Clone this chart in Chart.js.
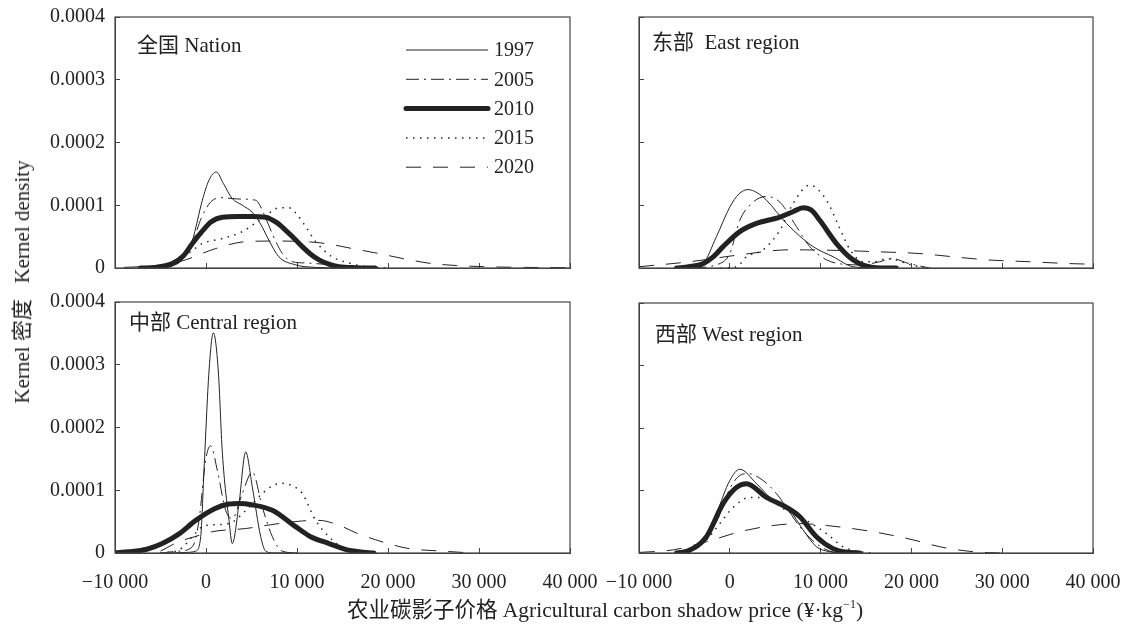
<!DOCTYPE html>
<html>
<head>
<meta charset="utf-8">
<script src="https://cdn.jsdelivr.net/npm/chart.js@4"></script>
<style>
  body { margin: 0; background: #fff; }
  #wrap { position: relative; width: 1129px; height: 625px; overflow: hidden; color: #222;
          font-family: "Liberation Serif", "Noto Sans CJK SC", serif; }
  #wrap canvas { position: absolute; left: 0; top: 0; }
  .ytitle { position: absolute; left: 20px; top: 282px; transform: translate(-50%, -50%) rotate(-90deg);
            white-space: nowrap; font-size: 21px; }
  .xtitle { position: absolute; left: 605px; top: 607px; transform: translate(-50%, -50%);
            white-space: nowrap; font-size: 21.5px; }
</style>
</head>
<body>
<div id="wrap">
  <canvas id="nation" width="1129" height="625"></canvas>
  <canvas id="east" width="1129" height="625"></canvas>
  <canvas id="central" width="1129" height="625"></canvas>
  <canvas id="west" width="1129" height="625"></canvas>
  <div class="ytitle">Kernel 密度&nbsp;&nbsp;&nbsp;Kernel density</div>
  <div class="xtitle">农业碳影子价格 Agricultural carbon shadow price (¥·kg<sup style="font-size:12px">−1</sup>)</div>
</div>
<script>
// density values are read in units of 1e-5
const SCALE = 1e-5;
const years = ['1997', '2005', '2010', '2015', '2020'];
const xTickLabels = ['−10 000', '0', '10 000', '20 000', '30 000', '40 000'];
const yTickLabels = ['0', '0.0001', '0.0002', '0.0003', '0.0004'];

// 全国 Nation
const nation1997X = [-7000, -4000, -2500, -1500, -400, 330, 1130, 1900, 2860, 4000, 5060, 6000, 6920, 8000, 9850, 12000, 15000, 18000];
const nation1997Y = [0, 0.3, 1.5, 4.4, 10.8, 14.0, 15.3, 13.5, 11.1, 10.0, 8.9, 7.0, 4.4, 1.8, 0.5, 0.1, 0, 0];
const nation2005X = [-7000, -4000, -2500, -1500, -500, 500, 1760, 3500, 5460, 6400, 7270, 8350, 9500, 11000, 13000, 16000, 19000];
const nation2005Y = [0, 0.3, 1.5, 4.0, 8.0, 10.5, 11.2, 11.0, 10.8, 8.5, 5.5, 2.4, 1.0, 0.8, 0.6, 0.3, 0];
const nation2010X = [-7200, -5500, -3700, -2500, -1500, -500, 500, 1800, 3500, 5000, 6560, 7700, 8760, 9700, 10580, 11500, 12420, 13500, 14620, 16500, 18600];
const nation2010Y = [0, 0.1, 0.7, 1.9, 3.9, 5.7, 7.3, 8.1, 8.2, 8.2, 8.1, 7.3, 6.0, 4.7, 3.4, 2.2, 1.3, 0.6, 0.2, 0.05, 0];
const nation2015X = [-6000, -4000, -2970, -1500, -400, 1800, 4000, 5820, 7000, 8020, 9120, 9900, 10950, 12050, 13850, 15700, 17600, 20000];
const nation2015Y = [0, 0.4, 1.3, 2.8, 3.9, 4.7, 5.8, 7.6, 8.8, 9.6, 9.6, 8.7, 6.6, 4.2, 1.8, 0.8, 0.2, 0];
const nation2020X = [-9000, -6000, -4000, -2230, 1060, 4360, 7660, 10950, 13150, 16080, 19000, 22000, 24840, 27500, 30740, 35000, 40000];
const nation2020Y = [0.1, 0.3, 0.6, 1.3, 3.1, 4.2, 4.3, 4.2, 3.9, 3.1, 2.3, 1.4, 0.7, 0.4, 0.2, 0.1, 0.05];

// 东部 East region
const east1997X = [-6000, -4000, -2940, -1470, 0, 1000, 2020, 3000, 4040, 6240, 9180, 11380, 13580, 16000];
const east1997Y = [0, 0.2, 0.7, 5.0, 9.7, 11.8, 12.5, 12.0, 10.8, 7.1, 3.4, 1.8, 0.2, 0];
const east2005X = [-4000, -1500, 0, 1100, 2570, 4040, 5510, 7340, 8810, 10650, 12500, 14500, 16500, 18000, 19500, 22000];
const east2005Y = [0, 0.5, 2.3, 7.6, 10.5, 11.4, 10.5, 6.6, 3.4, 1.3, 0.6, 0.5, 1.0, 1.5, 0.8, 0];
const east2010X = [-5870, -4500, -2940, -1800, -740, 1100, 2940, 5510, 7000, 8070, 9000, 9910, 11750, 13580, 15790, 18350];
const east2010Y = [0, 0.2, 0.7, 1.8, 3.4, 5.8, 7.1, 8.1, 9.0, 9.6, 9.2, 7.6, 3.9, 1.3, 0.1, 0];
const east2015X = [-1000, 740, 1840, 3670, 5510, 6980, 8810, 10650, 12110, 13250, 14690, 16000, 17260, 18500, 19460, 21450];
const east2015Y = [0, 0.2, 1.8, 2.9, 6.0, 10.3, 13.2, 10.8, 6.3, 2.9, 1.0, 1.0, 1.5, 1.2, 0.7, 0];
const east2020X = [-10000, -4400, 1100, 6610, 12110, 16000, 20930, 24500, 28270, 33000, 37440, 40000];
const east2020Y = [0.2, 1.0, 2.1, 2.9, 2.8, 2.6, 2.3, 1.8, 1.3, 1.0, 0.7, 0.6];

// 中部 Central region
const central1997X = [-4000, -2000, -1130, -580, -220, 330, 810, 1350, 1800, 2530, 2890, 3630, 4360, 5090, 6010, 6560, 7500, 10000];
const central1997Y = [0, 0.1, 0.3, 2.6, 13.2, 29.0, 35.1, 29.0, 15.9, 5.2, 1.5, 7.9, 16.1, 10.5, 2.6, 0.3, 0, 0];
const central2005X = [-5000, -3000, -1500, -770, -40, 510, 1240, 2160, 2890, 3990, 5090, 6190, 7290, 8380, 10000];
const central2005Y = [0, 0.3, 1.0, 5.2, 14.8, 17.1, 13.2, 6.8, 5.5, 9.5, 12.9, 7.3, 2.6, 0.3, 0];
const central2010X = [-10000, -8460, -6500, -4800, -3000, -1130, 1000, 2500, 3630, 5000, 7290, 9850, 11500, 13520, 15500, 16810, 18460];
const central2010Y = [0.05, 0.2, 0.6, 1.5, 3.0, 5.2, 7.1, 7.8, 7.9, 7.7, 6.8, 4.2, 2.6, 1.5, 0.5, 0.2, 0];
const central2015X = [-5000, -2970, -1130, -400, 1000, 2530, 4730, 6190, 7300, 8380, 9500, 10580, 12050, 14250, 15710, 17000];
const central2015Y = [0, 0.5, 3.2, 4.2, 4.5, 4.7, 7.3, 9.5, 10.7, 11.1, 10.7, 9.5, 5.2, 1.6, 0.2, 0];
const central2020X = [-5000, -2970, -1000, 700, 4360, 8020, 10500, 12420, 14980, 16500, 18650, 20500, 22310, 25970, 29230];
const central2020Y = [0.3, 1.8, 2.7, 3.4, 3.9, 4.7, 5.1, 5.2, 4.2, 3.2, 2.1, 1.3, 0.7, 0.3, 0];

// 西部 West region
const west1997X = [-6000, -4000, -2570, -1470, 0, 1100, 2940, 4770, 6610, 8070, 9540, 11010, 12500];
const west1997Y = [0, 0.5, 2.6, 6.3, 11.6, 13.4, 11.1, 8.4, 6.8, 3.7, 1.0, 0.2, 0];
const west2005X = [-6000, -4000, -2570, -1200, 0, 1000, 2020, 3670, 5140, 6240, 7710, 9540, 11010, 12500];
const west2005Y = [0, 0.5, 2.4, 5.8, 10.3, 12.3, 12.7, 11.6, 9.5, 7.3, 4.2, 1.5, 0.3, 0];
const west2010X = [-5870, -4500, -2570, -740, 740, 1840, 4040, 6240, 7710, 9540, 11380, 12800, 14320];
const west2010Y = [0, 0.4, 2.6, 7.9, 10.5, 11.1, 8.9, 7.3, 5.8, 2.6, 0.7, 0.15, 0];
const west2015X = [-6000, -4000, -2570, -1100, 370, 2200, 4040, 6240, 8440, 10650, 12480, 13950, 15500];
const west2015Y = [0, 0.5, 2.1, 4.7, 7.3, 8.9, 8.7, 6.8, 5.2, 3.1, 1.0, 0.3, 0];
const west2020X = [-9910, -6240, -2570, 1100, 4770, 7710, 10650, 15790, 20190, 23130, 26800, 29740];
const west2020Y = [0.1, 0.5, 1.8, 3.4, 4.4, 4.7, 4.4, 3.4, 2.1, 1.0, 0.2, 0];

const INK = '#222';
const FONT = '"Liberation Serif", "Noto Sans CJK SC", serif';
const lineStyles = {
  '1997': { borderWidth: 1, borderDash: [] },
  '2005': { borderWidth: 1, borderDash: [13, 5, 2, 5] },
  '2010': { borderWidth: 5, borderDash: [], borderCapStyle: 'round' },
  '2015': { borderWidth: 1.5, borderDash: [1.5, 5.5] },
  '2020': { borderWidth: 1, borderDash: [15, 12] }
};

// box = [left, top, right, bottom] of the plot frame
const panels = [
  { id: 'nation', label: '全国 Nation', box: [115, 17, 570, 268], labelAt: [137, 46], showX: false, showY: true, legend: true,
    xs: [nation1997X, nation2005X, nation2010X, nation2015X, nation2020X], ys: [nation1997Y, nation2005Y, nation2010Y, nation2015Y, nation2020Y] },
  { id: 'east', label: '东部  East region', box: [639, 17, 1093, 268], labelAt: [652, 43], showX: false, showY: false,
    xs: [east1997X, east2005X, east2010X, east2015X, east2020X], ys: [east1997Y, east2005Y, east2010Y, east2015Y, east2020Y] },
  { id: 'central', label: '中部 Central region', box: [115, 302, 570, 553], labelAt: [129, 323], showX: true, showY: true,
    xs: [central1997X, central2005X, central2010X, central2015X, central2020X], ys: [central1997Y, central2005Y, central2010Y, central2015Y, central2020Y] },
  { id: 'west', label: '西部 West region', box: [639, 303, 1093, 553], labelAt: [655, 335], showX: true, showY: false,
    xs: [west1997X, west2005X, west2010X, west2015X, west2020X], ys: [west1997Y, west2005Y, west2010Y, west2015Y, west2020Y] }
];

const framePlugin = {
  id: 'frame',
  afterDraw(chart, args, opts) {
    const { ctx, chartArea: a } = chart;
    ctx.save();
    ctx.strokeStyle = '#444';
    ctx.lineWidth = 1.2;
    ctx.strokeRect(a.left, a.top, a.right - a.left, a.bottom - a.top);
    ctx.fillStyle = INK;
    ctx.font = '21px ' + FONT;
    ctx.textBaseline = 'middle';
    ctx.fillText(opts.label, opts.labelAt[0], opts.labelAt[1]);
    if (opts.legend) {
      ctx.font = '20px ' + FONT;
      chart.data.datasets.forEach((ds, i) => {
        const y = 50 + i * 29.3;
        ctx.beginPath();
        ctx.strokeStyle = INK;
        ctx.lineWidth = ds.borderWidth;
        ctx.lineCap = ds.borderCapStyle || 'butt';
        ctx.setLineDash(ds.borderDash);
        ctx.moveTo(406, y);
        ctx.lineTo(488, y);
        ctx.stroke();
        ctx.setLineDash([]);
        ctx.fillText(ds.label, 494, y + 1);
      });
    }
    ctx.restore();
  }
};

const Y_AXIS_W = 100, X_AXIS_H = 50;

panels.forEach(p => {
  const [L, T, R, B] = p.box;
  new Chart(document.getElementById(p.id), {
    type: 'line',
    data: {
      datasets: years.map((yr, i) => ({
        label: yr,
        data: p.xs[i].map((x, j) => ({ x: x, y: p.ys[i][j] * SCALE })),
        borderColor: INK,
        pointRadius: 0,
        cubicInterpolationMode: 'monotone',
        ...lineStyles[yr]
      }))
    },
    options: {
      responsive: false,
      animation: false,
      layout: { padding: { left: L - Y_AXIS_W, top: T, right: 1129 - R, bottom: 625 - B - X_AXIS_H } },
      plugins: {
        legend: { display: false },
        tooltip: { enabled: false },
        frame: { label: p.label, labelAt: p.labelAt, legend: !!p.legend }
      },
      scales: {
        x: {
          type: 'linear', min: -10000, max: 40000,
          afterBuildTicks: s => { s.ticks = xTickLabels.map((t, i) => ({ value: -10000 + i * 10000 })); },
          afterFit: s => { s.height = X_AXIS_H; s.paddingLeft = 0; s.paddingRight = 0; },
          ticks: { display: p.showX, autoSkip: false, maxRotation: 0, padding: 23, color: INK,
                   font: { family: FONT, size: 20 }, callback: (v, i) => xTickLabels[i] },
          grid: { drawOnChartArea: false, drawTicks: true, tickLength: -5, color: '#444' },
          border: { color: '#444' }
        },
        y: {
          min: 0, max: 0.0004,
          afterBuildTicks: s => { s.ticks = yTickLabels.map((t, i) => ({ value: i * 0.0001 })); },
          afterFit: s => { s.width = Y_AXIS_W; s.paddingTop = 0; s.paddingBottom = 0; },
          ticks: { display: p.showY, padding: 15, color: INK,
                   font: { family: FONT, size: 20 }, callback: (v, i) => yTickLabels[i] },
          grid: { drawOnChartArea: false, drawTicks: true, tickLength: -5, color: '#444' },
          border: { color: '#444' }
        }
      }
    },
    plugins: [framePlugin]
  });
});
</script>
</body>
</html>
